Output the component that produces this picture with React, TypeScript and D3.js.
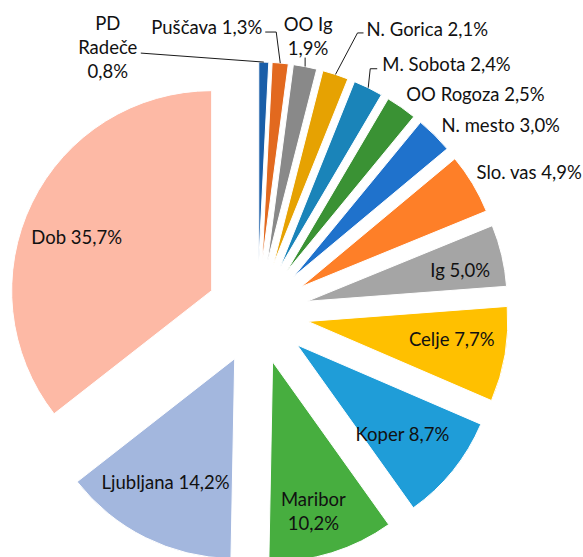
import * as d3 from 'd3';

// slices, clockwise from 12 o'clock
const names = ['PD Radeče', 'Puščava', 'OO Ig', 'N. Gorica', 'M. Sobota', 'OO Rogoza', 'N. mesto', 'Slo. vas', 'Ig', 'Celje', 'Koper', 'Maribor', 'Ljubljana', 'Dob'];
const shares = [0.8, 1.3, 1.9, 2.1, 2.4, 2.5, 3.0, 4.9, 5.0, 7.7, 8.7, 10.2, 14.2, 35.7];
const colors = ['#1a5ea8', '#e2691f', '#898989', '#e6a202', '#1a84b9', '#3a9234', '#1f72cc', '#fe7f28', '#a5a5a5', '#ffc000', '#1f9dd8', '#47ae3f', '#a3b7de', '#fdb9a5'];

const W = 583;
const H = 557;
const cx = 257.5;
const cy = 313;
const R = 200;
const explode = 51;
const lineH = 24;

type Pt = [number, number];
type LabelSpec = {
  mode: 'in' | 'out';
  dx: number;
  dy: number;
  anchor?: 'start' | 'middle' | 'end';
  lines?: number[]; // where to break the label text
  leader?: Pt[];
};

// manual label placement, like the dragged labels in the original
const labelLayout: Record<string, LabelSpec> = {
  'PD Radeče': { mode: 'out', dx: -156, dy: -15, anchor: 'middle', lines: [1, 2], leader: [[0, 0], [-123, -9]] },
  'Puščava': { mode: 'out', dx: -18, dy: -36, anchor: 'end', leader: [[0, 0], [-4, -31], [-15, -31]] },
  'OO Ig': { mode: 'out', dx: 3, dy: -30, anchor: 'middle', lines: [2], leader: [[0, 0], [0, -9]] },
  'N. Gorica': { mode: 'out', dx: 31, dy: -44.5, anchor: 'start', leader: [[0, 0], [22, -41.5], [28, -41.5]] },
  'M. Sobota': { mode: 'out', dx: 14, dy: -23, anchor: 'start', leader: [[0, 0], [2, -19], [9, -19]] },
  'OO Rogoza': { mode: 'out', dx: 5, dy: -13, anchor: 'start' },
  'N. mesto': { mode: 'out', dx: 7, dy: -9, anchor: 'start' },
  'Slo. vas': { mode: 'out', dx: 4, dy: -11, anchor: 'start' },
  'Ig': { mode: 'in', dx: 9, dy: 3 },
  'Celje': { mode: 'in', dx: -2, dy: -6 },
  'Koper': { mode: 'in', dx: -10, dy: -3 },
  'Maribor': { mode: 'in', dx: -3, dy: 8, lines: [1] },
  'Ljubljana': { mode: 'in', dx: -3, dy: -9 },
  'Dob': { mode: 'in', dx: -2, dy: 12 },
};

const fmt = (v: number) => v.toFixed(1).replace('.', ',') + '%';

export default function App() {
  const pie = d3.pie<number>().sort(null).value(d => d).startAngle(0).endAngle(2 * Math.PI);
  const arcs = pie(shares);
  const arc = d3.arc<d3.PieArcDatum<number>>().innerRadius(0).outerRadius(R);
  const line = d3.line();

  return (
    <svg width={W} height={H} style={{ position: 'absolute', left: 0, top: 0, background: '#fff' }}
      fontFamily="Lato, 'Open Sans', sans-serif" fontSize={18.5}>
      {arcs.map((a, i) => {
        const mid = (a.startAngle + a.endAngle) / 2;
        const ox = cx + explode * Math.sin(mid);
        const oy = cy - explode * Math.cos(mid);
        return (
          <path key={names[i]} d={arc(a) || ''} transform={`translate(${ox},${oy})`}
            fill={colors[i]} stroke="#fff" strokeWidth={1} />
        );
      })}
      {arcs.map((a, i) => {
        const name = names[i];
        const spec = labelLayout[name];
        const mid = (a.startAngle + a.endAngle) / 2;
        const ux = Math.sin(mid);
        const uy = -Math.cos(mid);
        const ax = cx + explode * ux;
        const ay = cy + explode * uy;
        const words = (name + ' ' + fmt(shares[i])).split(' ');
        // split into lines
        const breaks = spec.lines || [];
        const rows: string[] = [];
        let prev = 0;
        [...breaks, words.length].forEach(b => {
          rows.push(words.slice(prev, b).join(' '));
          prev = b;
        });
        let bx: number, by: number;
        if (spec.mode === 'in') {
          bx = ax + 148 * ux + spec.dx;
          by = ay + 148 * uy + spec.dy;
        } else {
          bx = ax + R * ux + spec.dx;
          by = ay + R * uy + spec.dy;
        }
        const ox = ax + R * ux;
        const oy = ay + R * uy;
        const top = by - ((rows.length - 1) * lineH) / 2;
        return (
          <g key={'l' + name}>
            {spec.leader && (
              <path d={line(spec.leader.map(p => [ox + p[0], oy + p[1]] as Pt)) || ''}
                fill="none" stroke="#1a1a1a" strokeWidth={1} />
            )}
            <text x={bx} textAnchor={spec.anchor || 'middle'} fill="#111">
              {rows.map((r, k) => (
                <tspan key={k} x={bx} y={top + k * lineH} dy="0.35em">{r}</tspan>
              ))}
            </text>
          </g>
        );
      })}
    </svg>
  );
}
